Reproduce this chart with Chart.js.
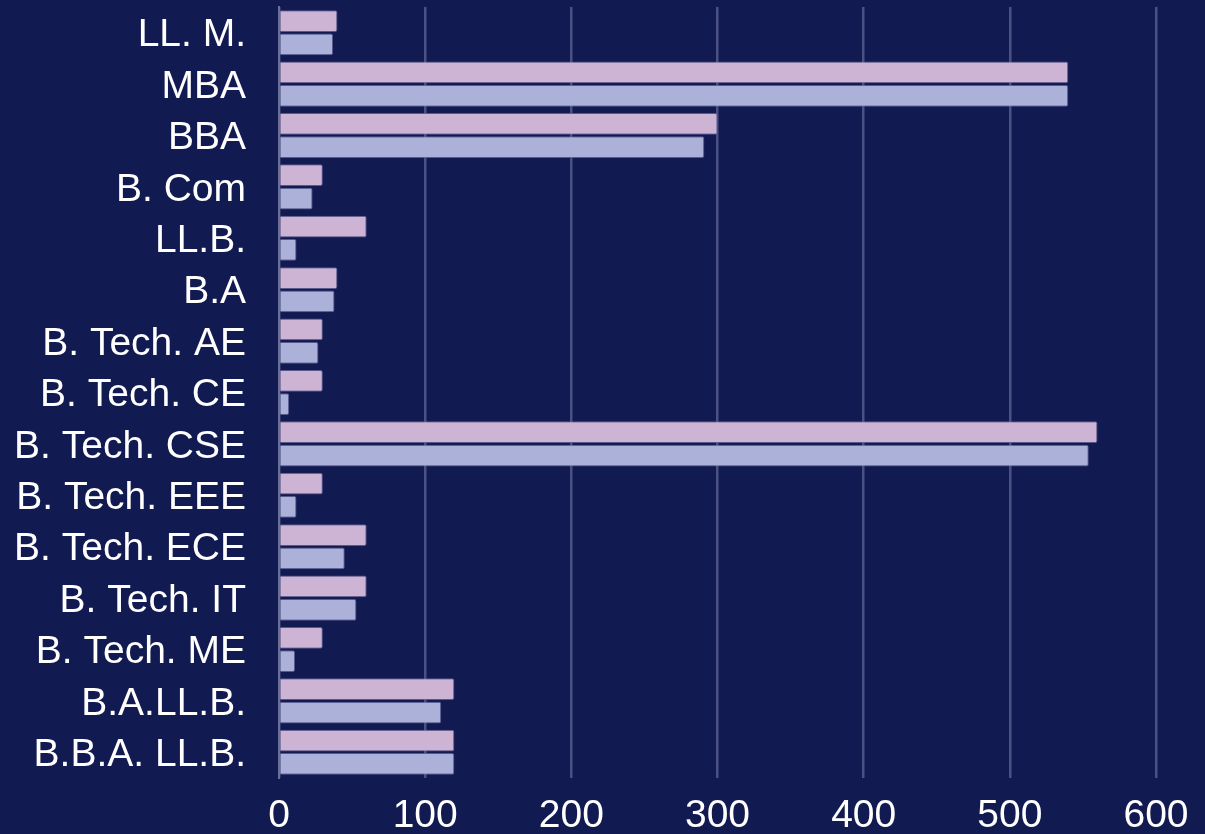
<!DOCTYPE html>
<html><head><meta charset="utf-8">
<script src="https://cdn.jsdelivr.net/npm/chart.js@4/dist/chart.umd.min.js"></script>
<style>html,body{margin:0;padding:0;background:#121a52;}#wrap{width:1205px;height:834px;}</style>
</head><body><div id="wrap"><canvas id="c" width="1205" height="834"></canvas></div>
<script>
const categories = ["LL. M.","MBA","BBA","B. Com","LL.B.","B.A","B. Tech. AE","B. Tech. CE","B. Tech. CSE","B. Tech. EEE","B. Tech. ECE","B. Tech. IT","B. Tech. ME","B.A.LL.B.","B.B.A. LL.B."];
const seriesA = [40,540,300,30,60,40,30,30,560,30,60,60,30,120,120];
const seriesB = [37,540,291,23,12,38,27,7,554,12,45,53,11,111,120];
const xTicks = [0,100,200,300,400,500,600];

new Chart(document.getElementById('c'), {
  type: 'bar',
  data: {
    labels: categories,
    datasets: [
      {label:'A', data: seriesA, backgroundColor:'#cdb4d5', borderColor:'rgba(100,100,150,0.85)', borderWidth:1, borderRadius:2, borderSkipped:'start'},
      {label:'B', data: seriesB, backgroundColor:'#abb1d9', borderColor:'rgba(100,100,150,0.85)', borderWidth:1, borderRadius:2, borderSkipped:'start'}
    ]
  },
  options: {
    indexAxis: 'y',
    responsive: false,
    animation: false,
    devicePixelRatio: 1,
    categoryPercentage: 0.91,
    barPercentage: 0.93,
    layout: {padding: {top: 7, right: 49, bottom: 0, left: 0}},
    plugins: {legend: {display:false}, tooltip:{enabled:false}},
    scales: {
      x: {
        min: 0, max: 600,
        afterBuildTicks: (ax) => { ax.ticks = xTicks.map(v => ({value: v})); },
        afterFit: (s) => { s.height = 56; },
        ticks: {color:'#ffffff', font:{family:'Liberation Sans', size:39}, padding: 15, maxRotation:0},
        grid: {color:'#4b5182', lineWidth:2.5, drawTicks:false},
        border: {display:false}
      },
      y: {
        afterFit: (s) => { s.width = 279; s.paddingTop = 0; s.paddingBottom = 0; },
        ticks: {color:'#ffffff', font:{family:'Liberation Sans', size:39}, padding: 33, labelOffset: 3},
        grid: {display:false, drawTicks:false},
        border: {display:true, color:'#6b7099', width:2}
      }
    }
  },
  plugins: [{
    id:'bg',
    beforeDraw(chart){const c=chart.ctx;c.save();c.fillStyle='#121a52';c.fillRect(0,0,chart.width,chart.height);c.restore();}
  }]
});
</script></body></html>
